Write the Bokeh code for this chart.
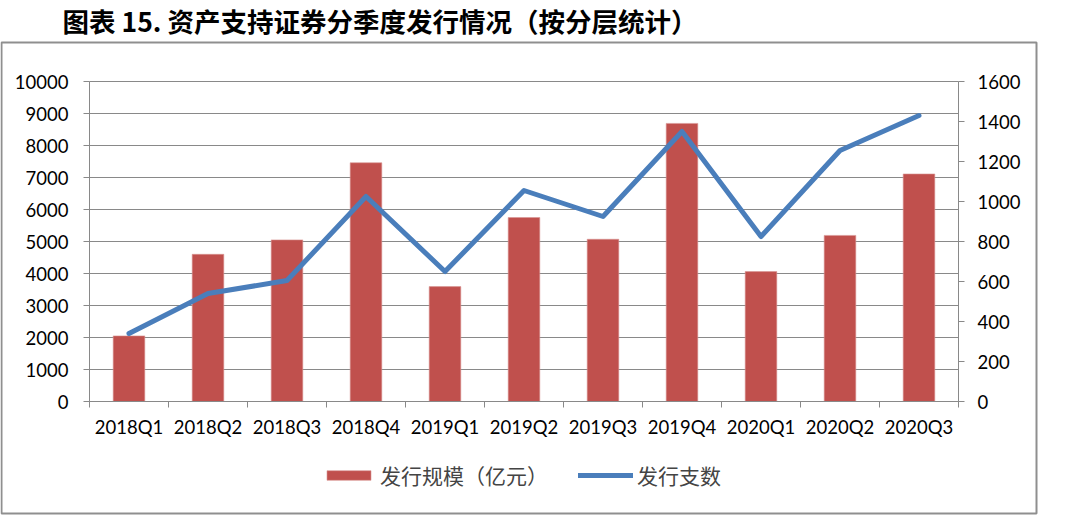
from bokeh.plotting import figure
from bokeh.models import (Range1d, LinearAxis, FixedTicker, Legend, LegendItem,
                          BoxAnnotation, Label, ColumnDataSource, Grid)
from bokeh.embed import file_html
from bokeh.resources import INLINE

categories = ["2018Q1", "2018Q2", "2018Q3", "2018Q4", "2019Q1", "2019Q2",
              "2019Q3", "2019Q4", "2020Q1", "2020Q2", "2020Q3"]
issue_size = [2050, 4600, 5050, 7460, 3590, 5750, 5070, 8690, 4060, 5190, 7110]   # 亿元
issue_count = [340, 540, 605, 1025, 650, 1055, 925, 1350, 825, 1255, 1430]      # 支
left_ticks = list(range(0, 10001, 1000))
right_ticks = list(range(0, 1601, 200))

title_text = "图表 15. 资产支持证券分季度发行情况（按分层统计）"
bar_label = "发行规模（亿元）"
line_label = "发行支数"

# ---- layout geometry (pixels) ----
W, H = 1080, 529
PX_L, PX_R = 89, 958          # plot-area left / right (from left)
PY_T, PY_B = 81, 401          # plot-area top / bottom (from top)
n = len(categories)
x_lo, x_hi = 0.5, n + 0.5
y_lo, y_hi = 0, 10000
r_lo, r_hi = 0, 1600

def span(lo, hi, p_lo, p_hi, total):
    k = (hi - lo) / (p_hi - p_lo)
    return lo - p_lo * k, hi + (total - p_hi) * k

xr = Range1d(*span(x_lo, x_hi, PX_L, PX_R, W))
yr = Range1d(*span(y_lo, y_hi, H - PY_B, H - PY_T, H))
rr = Range1d(*span(r_lo, r_hi, H - PY_B, H - PY_T, H))

xpos = list(range(1, n + 1))
src = ColumnDataSource(dict(x=xpos, size=issue_size, count=issue_count))

p = figure(width=W, height=H, output_backend="svg", toolbar_location=None,
           x_range=xr, y_range=yr, x_axis_location=None, y_axis_location=None,
           min_border=0, min_border_left=0, min_border_right=0,
           min_border_top=0, min_border_bottom=0, outline_line_color=None,
           background_fill_color="white", border_fill_color="white")
p.extra_y_ranges = {"cnt": rr}
p.center = [r for r in p.center if not isinstance(r, Grid)]

GRAY = "#898989"
tick_font = "Lato"
TFS = "18.5px"

# grid lines (left-axis ticks)
g = Grid(dimension=1, ticker=FixedTicker(ticks=left_ticks), grid_line_color=GRAY,
         grid_line_width=1)
if "cross_bounds" in Grid.properties():
    g.cross_bounds = (x_lo, x_hi)
    p.add_layout(g)
else:
    p.segment(x0=x_lo, x1=x_hi, y0=left_ticks, y1=left_ticks, line_color=GRAY, line_width=1)

# bars and line
bars = p.vbar(x="x", top="size", width=0.4, source=src, fill_color="#C0504D",
              line_color="#D99694", line_width=0.6)
ln = p.line(x="x", y="count", source=src, y_range_name="cnt", line_color="#4A7EBB",
            line_width=5, line_join="round", line_cap="round")

def style(ax):
    ax.major_tick_in = 0
    ax.minor_tick_in = 0
    ax.minor_tick_out = 0
    ax.major_tick_line_color = GRAY
    ax.minor_tick_line_color = GRAY
    ax.axis_line_color = GRAY
    ax.axis_line_width = 1
    ax.major_label_text_font = tick_font
    ax.major_label_text_font_size = TFS
    ax.major_label_text_color = "black"

# x axis
xa = LinearAxis(fixed_location=y_lo, bounds=(x_lo, x_hi),
                ticker=FixedTicker(ticks=xpos, minor_ticks=[i + 0.5 for i in range(0, n + 1)]))
style(xa)
xa.major_label_overrides = {i: c for i, c in zip(xpos, categories)}
xa.major_tick_out = 0
xa.minor_tick_out = 6
xa.major_label_standoff = 8
p.add_layout(xa, "below")

# left y axis
ya = LinearAxis(fixed_location=x_lo, bounds=(y_lo, y_hi), ticker=FixedTicker(ticks=left_ticks))
style(ya)
ya.major_tick_out = 6
ya.major_label_standoff = 15
p.add_layout(ya, "left")

# right y axis
ra = LinearAxis(y_range_name="cnt", fixed_location=x_hi, bounds=(r_lo, r_hi),
                ticker=FixedTicker(ticks=right_ticks))
style(ra)
ra.major_tick_out = 6
ra.major_label_standoff = 13
p.add_layout(ra, "right")

# legend
legend = Legend(items=[LegendItem(label=bar_label, renderers=[bars]),
                       LegendItem(label=line_label, renderers=[ln])],
                orientation="horizontal", location=(321, 39),
                label_text_font="Noto Sans CJK SC", label_text_font_size="21px",
                glyph_width=55, glyph_height=12, label_standoff=4, spacing=30,
                padding=0, margin=0, border_line_color=None,
                background_fill_alpha=0)
p.add_layout(legend)

# outer box and title (screen units measured from bottom-left)
box = BoxAnnotation(left=1, right=1036, top=H - 42, bottom=H - 513,
                    left_units="screen", right_units="screen",
                    top_units="screen", bottom_units="screen",
                    fill_alpha=0, line_color="#8F8F8F", line_alpha=1, line_width=2)
p.add_layout(box)

title = Label(x=62, y=H - 20, x_units="screen", y_units="screen", text=title_text,
              text_font="Noto Sans CJK SC", text_font_style="bold",
              text_font_size="26.5px", text_baseline="middle", text_align="left",
              text_color="black")
p.add_layout(title)

open("out.html", "w").write(file_html(p, INLINE))
